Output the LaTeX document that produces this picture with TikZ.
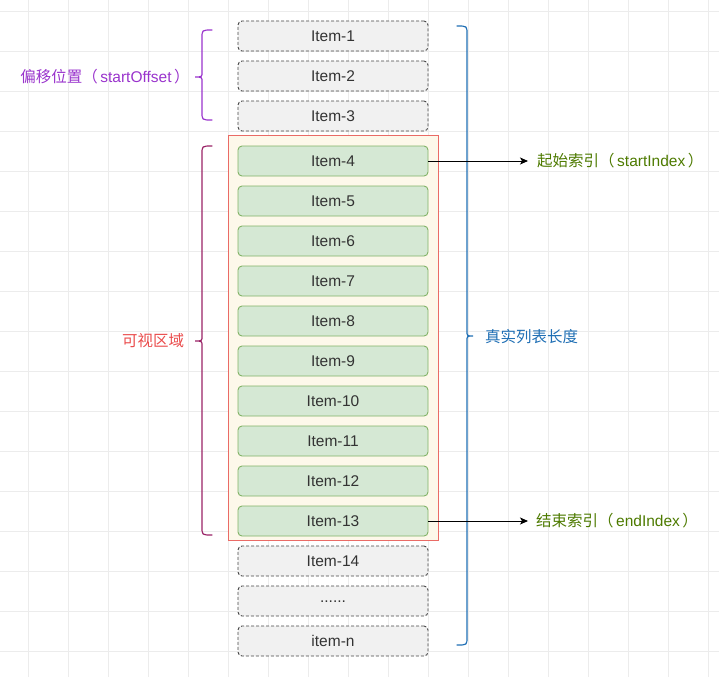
\documentclass[tikz,border=0pt]{standalone}
\usepackage{fontspec}
\setmainfont{Liberation Sans}
\newfontfamily\cjk{Noto Sans CJK SC}
\usetikzlibrary{arrows.meta}
\definecolor{gridgray}{RGB}{236,236,236}
\definecolor{itemtext}{RGB}{51,51,51}
\definecolor{ghostfill}{RGB}{241,241,241}
\definecolor{ghoststroke}{RGB}{70,70,70}
\definecolor{viewfill}{RGB}{213,232,212}
\definecolor{viewstroke}{RGB}{130,179,102}
\definecolor{portfill}{RGB}{253,248,234}
\definecolor{portstroke}{RGB}{234,107,102}
\definecolor{offsetpurple}{RGB}{153,51,204}
\definecolor{visiblewine}{RGB}{153,34,102}
\definecolor{visiblered}{RGB}{234,76,76}
\definecolor{totalblue}{RGB}{30,110,180}
\definecolor{indexgreen}{RGB}{77,122,0}
\newcommand{\itemfont}{\fontsize{15.5}{18}\selectfont}
\newcommand{\gap}{\hspace{2.5pt}}

\begin{document}
\begin{tikzpicture}[x=1pt, y=-1pt,
    gridline/.style={draw=gridgray, line width=0.8pt},
    ghostitem/.style={draw=ghoststroke, fill=ghostfill, dash pattern=on 3pt off 2pt,
        line width=0.9pt, rounded corners=4pt, minimum width=190pt, minimum height=30pt,
        inner sep=0pt, font=\itemfont, text=itemtext},
    viewitem/.style={ghostitem, solid, draw=viewstroke, fill=viewfill},
    brace/.style={line width=1.2pt, line cap=round},
    pointer/.style={draw=black, line width=0.9pt, -{Stealth[length=8pt, width=7pt, inset=2pt]}},
    tag/.style={font=\itemfont, inner sep=0pt}]
    \useasboundingbox (0,0) rectangle (719,677);
    % background grid
    \foreach \gx in {28,68,...,708}
        \draw[gridline] (\gx,0) -- (\gx,677);
    \foreach \gy in {11,51,...,651}
        \draw[gridline] (0,\gy) -- (719,\gy);
    % visible area
    \filldraw[draw=portstroke, fill=portfill, line width=1pt] (228.5,135.5) rectangle (438.5,540.5);
    % list items
    \foreach \n/\y in {1/36,2/76,3/116}
        \node[ghostitem] (item\n) at (333,\y) {Item-\n};
    \foreach \n in {4,...,13}
        \node[viewitem] (item\n) at (333,{161+40*(\n-4)}) {Item-\n};
    \node[ghostitem] (item14)   at (333,561) {Item-14};
    \node[ghostitem] (itemdots) at (333,601) {\raisebox{-3pt}{......}};
    \node[ghostitem] (itemn)    at (333,641) {item-n};
    % braces
    \draw[brace, offsetpurple] (212,30) .. controls (202,30) .. (202,38) -- (202,72)
        .. controls (202,77) .. (195,77) .. controls (202,77) .. (202,82) -- (202,112)
        .. controls (202,120) .. (212,120);
    \draw[brace, visiblewine] (212,146) .. controls (202,146) .. (202,154) -- (202,336)
        .. controls (202,341) .. (195,341) .. controls (202,341) .. (202,346) -- (202,527)
        .. controls (202,535) .. (212,535);
    \draw[brace, totalblue] (457,26) .. controls (467,26) .. (467,34) -- (467,331)
        .. controls (467,336) .. (473,336) .. controls (467,336) .. (467,341) -- (467,637)
        .. controls (467,645) .. (457,645);
    % labels
    \node[tag, text=offsetpurple] (offsetlbl) at (105,77) {{\cjk 偏移位置（}\gap startOffset\gap{\cjk ）}};
    \node[tag, text=visiblered] (visiblelbl) at (153,341) {\cjk 可视区域};
    \node[tag, text=totalblue, anchor=west] (totallbl) at (485,337) {\cjk 真实列表长度};
    \node[tag, text=indexgreen, anchor=west] (startlbl) at (537,161) {{\cjk 起始索引（}\gap startIndex\gap{\cjk ）}};
    \node[tag, text=indexgreen, anchor=west] (endlbl) at (536,521) {{\cjk 结束索引（}\gap endIndex\gap{\cjk ）}};
    % index pointers
    \draw[pointer, shorten >=9pt] (item4.east) -- (startlbl.west);
    \draw[pointer, shorten >=8pt] (item13.east) -- (endlbl.west);
\end{tikzpicture}
\end{document}
